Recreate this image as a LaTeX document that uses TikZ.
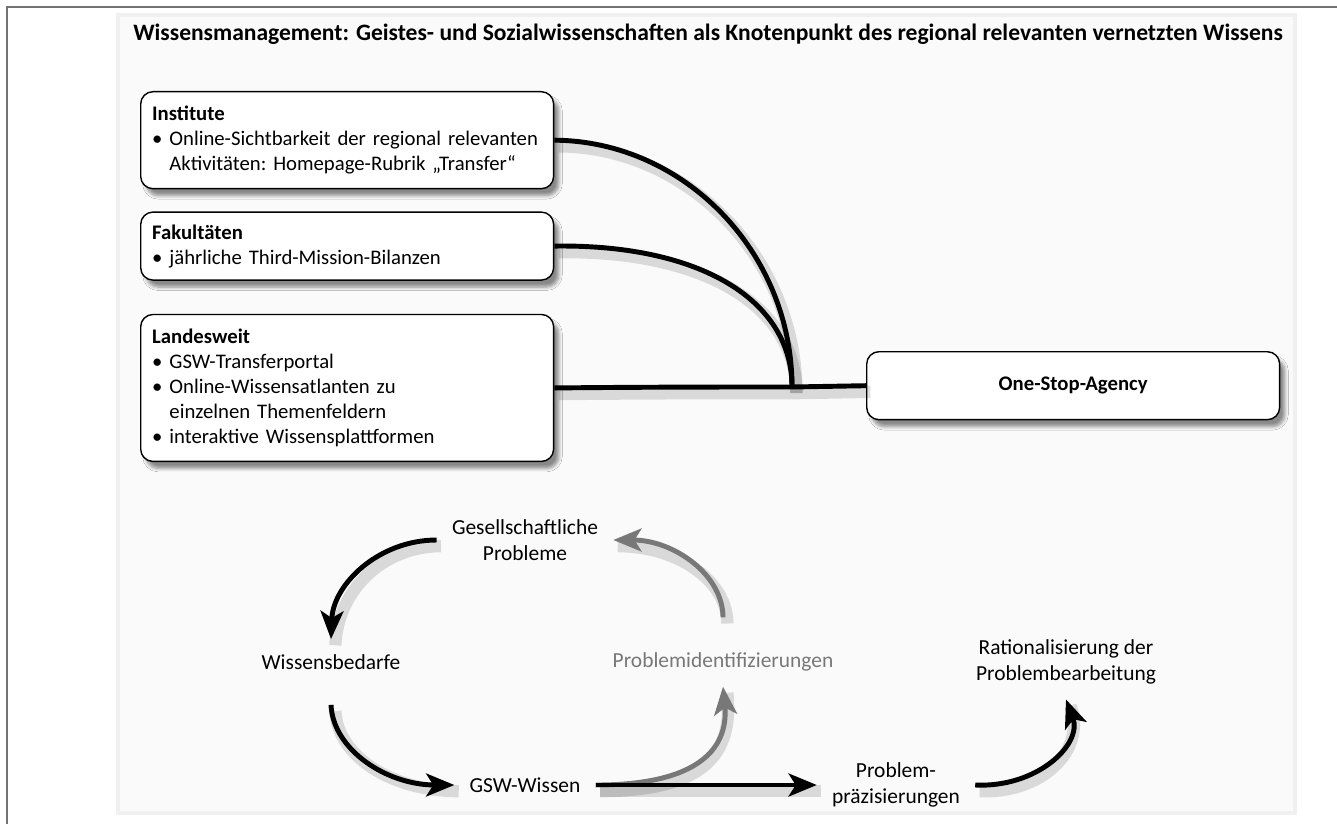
\documentclass[tikz,border=0pt]{standalone}
\usepackage{fontspec}
\setmainfont{Carlito}
\usetikzlibrary{arrows.meta,positioning,shadows.blur}

\definecolor{flowgray}{RGB}{120,120,120}
\newcommand{\bodyfont}{\fontsize{11.8}{14.2}\selectfont\frenchspacing}
\newcommand{\labelfont}{\fontsize{12.2}{14.6}\selectfont}
\newcommand{\titlefont}{\fontsize{13.4}{16}\selectfont\bfseries}

\tikzset{
  lineshade/.style={preaction={draw=black, draw opacity=0.13, line width=7pt, arrows=-,
      transform canvas={xshift=2.5pt,yshift=-3.5pt}}},
}

\begin{document}
\begin{tikzpicture}[x=0.02cm,y=-0.02cm,
  box/.style={draw, rounded corners=7pt, fill=white, line width=0.8pt, align=left,
    anchor=north west, text width=7.8cm, inner xsep=0.23cm, inner ysep=0pt, font=\bodyfont,
    blur shadow={shadow xshift=3pt, shadow yshift=-4pt, shadow opacity=45, shadow blur steps=6}},
  lbl/.style={align=center, inner sep=0.3cm, font=\labelfont},
  link/.style={line width=2.8pt, lineshade},
  flow/.style={line width=2.8pt, lineshade, -{Stealth[length=16pt,width=13pt,inset=4pt]}},
  grayflow/.style={flow, draw=flowgray}]

  \useasboundingbox (0,0) rectangle (1337,824);
  % frame and panel
  \draw[black!55, line width=1pt] (7,824) -- (7,7) -- (1337,7);
  \draw[black!6, line width=2pt, fill=black!2] (118,15) rectangle (1295,813);

  \node[anchor=west, font=\titlefont, inner sep=0pt] (title) at (133,34)
    {Wissensmanagement: Geistes- und Sozialwissenschaften als Knotenpunkt des regional relevanten vernetzten Wissens};

  % upper part: boxes
  \node[box, minimum height=1.94cm] (inst) at (140,91)
    {\textbf{Institute}\\
     • Online-Sichtbarkeit der regional relevanten\\
     \phantom{• }Aktivitäten: Homepage-Rubrik „Transfer“};
  \node[box, minimum height=1.36cm, below=0.44cm of inst] (fak)
    {\textbf{Fakultäten}\\
     • jährliche Third-Mission-Bilanzen};
  \node[box, minimum height=2.94cm, below=0.66cm of fak] (land)
    {\textbf{Landesweit}\\
     • GSW-Transferportal\\
     • Online-Wissensatlanten zu\\
     \phantom{• }einzelnen Themenfeldern\\
     • interaktive Wissensplattformen};
  \node[box, minimum height=1.36cm, align=center, font=\bodyfont\bfseries] (osa) at (866,351)
    {One-Stop-Agency};

  \coordinate (hub) at (792,387);

  \draw[link] (inst.east) .. controls (684,141) and (792,252) .. (hub);
  \draw[link] (fak.east) .. controls (700,244) and (792,300) .. (hub);
  \draw[link] (land.east) .. controls (650,387) and (720,387) .. (hub) -- (osa.west);

  % lower part: cycle
  \node[lbl] (gp) at (525,540) {Gesellschaftliche\\Probleme};
  \node[lbl] (wb) at (331,662) {Wissensbedarfe};
  \node[lbl, text=flowgray] (pi) at (723,662) {Problemidentifizierungen};
  \node[lbl] (gsw) at (525,785) {GSW-Wissen};
  \node[lbl] (pp) at (896,785) {Problem-\\präzisierungen};
  \node[lbl] (rp) at (1066,662) {Rationalisierung der\\Problembearbeitung};

  \draw[grayflow] (gsw.east) .. controls (710,785) and (728,740) .. (pi.south);
  \draw[grayflow] ([yshift=0.4cm]pi.north) .. controls (723,575) and (674,540) .. (gp.east);
  \draw[flow] (gp.west) .. controls (379,540) and (333,584) .. (wb.north);
  \draw[flow] ([yshift=-0.4cm]wb.south) .. controls (333,750) and (387,785) .. (gsw.west);
  \draw[flow] (gsw.east) -- (pp.west);
  \draw[flow] (pp.east) .. controls (1036,788) and (1083,745) .. (rp.south);
\end{tikzpicture}
\end{document}
